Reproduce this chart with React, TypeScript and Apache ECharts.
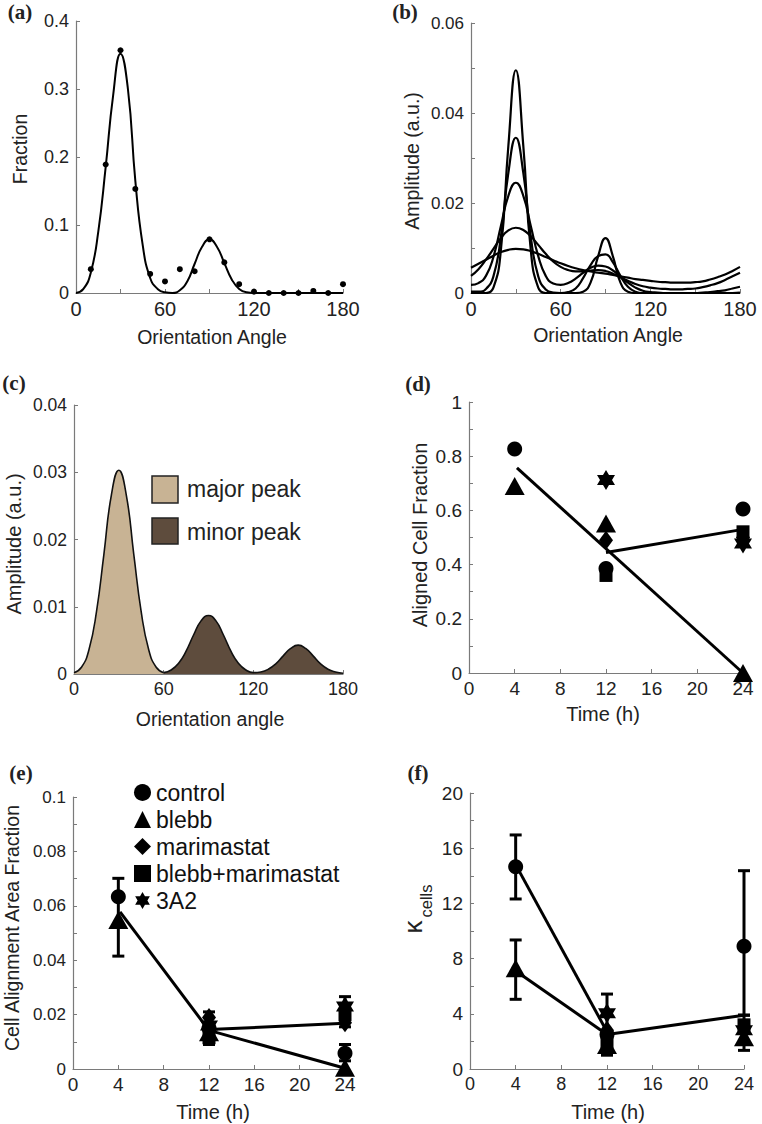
import React, { useEffect, useRef } from "react";
import * as echarts from "echarts";

// ---------- shared ----------
const angles = [0, 5, 10, 15, 20, 25, 30, 35, 40, 45, 50, 55, 60, 65, 70, 75, 80, 85, 90, 95, 100, 105, 110, 115, 120, 125, 130, 135, 140, 145, 150, 155, 160, 165, 170, 175, 180];

// ---------- panel (a) ----------
const fitA = [0, 0.006, 0.03, 0.09, 0.185, 0.29, 0.352, 0.3, 0.165, 0.07, 0.022, 0.006, 0.001, 0, 0.004, 0.017, 0.043, 0.068, 0.079, 0.068, 0.044, 0.02, 0.006, 0.001, 0, 0, 0, 0, 0, 0, 0, 0, 0, 0, 0, 0, 0];
const pointAnglesA = [10, 20, 30, 40, 50, 60, 70, 80, 90, 100, 110, 120, 130, 140, 150, 160, 170, 180];
const pointsA = [0.035, 0.189, 0.357, 0.153, 0.028, 0.017, 0.035, 0.032, 0.079, 0.045, 0.013, 0.002, 0, 0, 0, 0.003, 0, 0.013];

// ---------- panel (b) ----------
const curveB1 = [0, 0, 0, 0.0012, 0.0095, 0.0327, 0.0495, 0.0327, 0.0095, 0.0012, 0, 0, 0, 0, 0, 0.0003, 0.0023, 0.0081, 0.0122, 0.0081, 0.0023, 0.0003, 0, 0, 0, 0, 0, 0, 0, 0, 0, 0, 0, 0, 0, 0, 0];
const curveB2 = [0.0003, 0.0003, 0.0009, 0.0037, 0.0125, 0.0267, 0.0345, 0.0267, 0.0125, 0.0037, 0.0008, 0.0001, 0, 0.0002, 0.001, 0.0033, 0.0062, 0.0082, 0.0086, 0.0068, 0.0038, 0.0014, 0.0003, 0, 0, 0, 0, 0, 0, 0, 0, 0, 0, 0, 0, 0, 0.0001];
const curveB3 = [0.0018, 0.0022, 0.0038, 0.008, 0.0149, 0.0216, 0.0245, 0.0216, 0.0149, 0.0082, 0.0038, 0.0021, 0.0018, 0.0022, 0.0032, 0.0045, 0.0056, 0.0061, 0.0059, 0.005, 0.0036, 0.0023, 0.0012, 0.0005, 0.0002, 0.0001, 0, 0, 0, 0, 0, 0.0001, 0.0002, 0.0004, 0.0006, 0.001, 0.0014];
const curveB4 = [0.0038, 0.0053, 0.0074, 0.0098, 0.0122, 0.0139, 0.0145, 0.014, 0.0126, 0.0107, 0.0087, 0.007, 0.0058, 0.0051, 0.0048, 0.0048, 0.005, 0.0051, 0.0049, 0.0043, 0.0035, 0.0027, 0.002, 0.0015, 0.0012, 0.001, 0.0009, 0.0008, 0.0008, 0.0009, 0.001, 0.0013, 0.0017, 0.0022, 0.0029, 0.0037, 0.0045];
const curveB5 = [0.0056, 0.0065, 0.0074, 0.0083, 0.0091, 0.0096, 0.0098, 0.0097, 0.0093, 0.0087, 0.008, 0.0073, 0.0066, 0.006, 0.0055, 0.0051, 0.0048, 0.0045, 0.0043, 0.004, 0.0037, 0.0034, 0.0031, 0.0029, 0.0027, 0.0025, 0.0024, 0.0023, 0.0023, 0.0023, 0.0024, 0.0026, 0.003, 0.0035, 0.0041, 0.0049, 0.0058];

// ---------- panel (c) ----------
const majorPeak = [0.0002, 0.001, 0.0036, 0.0092, 0.0178, 0.0266, 0.0303, 0.0266, 0.0178, 0.0092, 0.0036, 0.001, 0.0002];
const minorPeak = [0.0002, 0.0006, 0.0016, 0.0034, 0.0058, 0.0079, 0.0087, 0.0079, 0.0058, 0.0034, 0.0016, 0.0006, 0.0002, 0.0003, 0.0007, 0.0015, 0.0027, 0.0038, 0.0043, 0.0038, 0.0027, 0.0015, 0.0007, 0.0003, 0.0001];
const peakLabels = ["major peak", "minor peak"];

// ---------- panels (d)(e)(f) ----------
const times = [4, 12, 24];
const groups = ["control", "blebb", "marimastat", "blebb+marimastat", "3A2"];

const alignedD = [
  [0.827, 0.386, 0.605],
  [0.69, 0.552, 0.0],
  [null, 0.49, 0.5],
  [null, 0.36, 0.521],
  [null, 0.712, 0.478],
];
const lineD1 = [[4.2, 0.757], [24, 0.0]];
const lineD2 = [[12, 0.445], [24, 0.53]];

const areaE = [
  [0.0633, 0.015, 0.0058],
  [0.0548, 0.0135, 0.0005],
  [null, 0.0189, 0.017],
  [null, 0.0115, 0.02],
  [null, 0.016, 0.023],
];
const lineE1 = [[4.15, 0.0578], [12, 0.0142]];
const lineE2 = [[12, 0.0145], [24, 0.0168]];
const lineE3 = [[12, 0.0142], [24, 0.0003]];
const errE = [[4, 0.0415, 0.0701], [12, 0.009, 0.021], [24, 0.0155, 0.0266], [24, 0.003, 0.009]];

const kappaF = [
  [14.66, 2.5, 8.9],
  [7.3, 1.74, 2.3],
  [null, 2.8, 3.0],
  [null, 2.0, 3.2],
  [null, 4.04, 2.8],
];
const lineF1 = [[4.2, 14.5], [12, 2.7]];
const lineF2 = [[4.2, 7.0], [12, 2.5]];
const lineF3 = [[12, 2.5], [24, 3.9]];
const errF = [[4, 12.32, 16.96], [4, 5.05, 9.35], [12, 1.0, 5.43], [24, 3.9, 14.37], [24, 1.35, 3.9]];

const STAR = "path://M0,-10L2.887,-5L8.66,-5L5.774,0L8.66,5L2.887,5L0,10L-2.887,5L-8.66,5L-5.774,0L-8.66,-5L-2.887,-5Z";
const symbols = ["circle", "triangle", "diamond", "rect", STAR];
const symbolSizes: any[] = [15, [20, 18], [14, 19], 13, [18, 20]];

const FONT = "Liberation Sans";
const SERIF = "Liberation Serif";
const AXIS_COLOR = "#7a7a7a";
const LABEL_COLOR = "#222";

function xAx(gi: number, max: number, interval: number, fs: number, minor: boolean) {
  return {
    type: "value", gridIndex: gi, min: 0, max, interval,
    axisLine: { show: true, onZero: false, lineStyle: { color: AXIS_COLOR, width: 1.2 } },
    axisTick: { show: true, inside: true, length: 4, lineStyle: { color: AXIS_COLOR } },
    minorTick: { show: minor, splitNumber: 2, length: 4, lineStyle: { color: AXIS_COLOR } },
    axisLabel: { color: LABEL_COLOR, fontSize: fs, fontFamily: FONT, margin: 6 },
    splitLine: { show: false },
  };
}
function yAx(gi: number, max: number, interval: number, fs: number, minor: boolean) {
  return {
    type: "value", gridIndex: gi, min: 0, max, interval,
    axisLine: { show: true, onZero: false, lineStyle: { color: AXIS_COLOR, width: 1.2 } },
    axisTick: { show: true, inside: true, length: 4, lineStyle: { color: AXIS_COLOR } },
    minorTick: { show: minor, splitNumber: 2, length: 4, lineStyle: { color: AXIS_COLOR } },
    axisLabel: { color: LABEL_COLOR, fontSize: fs, fontFamily: FONT, margin: 7 },
    splitLine: { show: false },
  };
}

function zip(xs: number[], ys: number[]) {
  return xs.map((x, i) => [x, ys[i]]);
}

function curve(gi: number, name: string, data: number[][], width: number) {
  return {
    type: "line", name, xAxisIndex: gi, yAxisIndex: gi, data, symbol: "none",
    smooth: 0.5,
    lineStyle: { color: "#000", width },
  };
}

function straight(gi: number, data: number[][]) {
  return {
    type: "line", name: "fit", xAxisIndex: gi, yAxisIndex: gi, data, symbol: "none",
    lineStyle: { color: "#000", width: 3 }, z: 3,
  };
}

function groupScatter(gi: number, table: (number | null)[][]) {
  return groups.map((g, k) => ({
    type: "scatter", name: g, xAxisIndex: gi, yAxisIndex: gi,
    symbol: symbols[k], symbolSize: symbolSizes[k],
    itemStyle: { color: "#000", opacity: 1 },
    data: times.map((t, i) => [t, table[k][i]]).filter((p) => p[1] !== null),
    z: 4,
  }));
}

function errorBars(gi: number, data: number[][]) {
  return {
    type: "custom", name: "error", xAxisIndex: gi, yAxisIndex: gi, data,
    encode: { x: 0, y: [1, 2] }, z: 5,
    renderItem: (params: any, api: any) => {
      const x = api.value(0), lo = api.value(1), hi = api.value(2);
      const a = api.coord([x, lo]);
      const b = api.coord([x, hi]);
      const w = 6;
      const st = { stroke: "#000", lineWidth: 3 };
      return {
        type: "group",
        children: [
          { type: "line", shape: { x1: a[0], y1: a[1], x2: b[0], y2: b[1] }, style: st },
          { type: "line", shape: { x1: a[0] - w, y1: a[1], x2: a[0] + w, y2: a[1] }, style: st },
          { type: "line", shape: { x1: b[0] - w, y1: b[1], x2: b[0] + w, y2: b[1] }, style: st },
        ],
      };
    },
  };
}

function txt(text: string, x: number, y: number, size: number, rot = false, family = FONT, weight = "normal") {
  return {
    type: "text", x, y, rotation: rot ? Math.PI / 2 : 0, z: 10,
    style: { text, fontSize: size, fontFamily: family, fontWeight: weight, fill: LABEL_COLOR, align: "center", verticalAlign: "middle" },
  };
}

function buildOption() {
  const grids = [
    { left: 76, top: 21, width: 267, height: 272 },
    { left: 471, top: 23, width: 269, height: 270 },
    { left: 74, top: 405, width: 269, height: 269 },
    { left: 469, top: 402, width: 274, height: 271 },
    { left: 73, top: 797, width: 272, height: 272 },
    { left: 470, top: 793, width: 274, height: 276 },
  ];
  const xAxis = [
    xAx(0, 180, 60, 20, true),
    xAx(1, 180, 60, 20, true),
    xAx(2, 180, 60, 18, true),
    xAx(3, 24, 4, 19, false),
    xAx(4, 24, 4, 19, false),
    xAx(5, 24, 4, 18, false),
  ];
  const yAxis = [
    yAx(0, 0.4, 0.1, 18, false),
    yAx(1, 0.06, 0.02, 17, true),
    yAx(2, 0.04, 0.01, 17.5, false),
    yAx(3, 1, 0.2, 19, true),
    yAx(4, 0.1, 0.02, 17, true),
    yAx(5, 20, 4, 19, true),
  ];

  const series: any[] = [];
  // (a)
  series.push(curve(0, "fit", zip(angles, fitA), 2));
  series.push({
    type: "scatter", name: "data", xAxisIndex: 0, yAxisIndex: 0,
    data: zip(pointAnglesA, pointsA), symbol: "circle", symbolSize: 6,
    itemStyle: { color: "#000", opacity: 1 }, z: 4,
  });
  // (b)
  [curveB1, curveB2, curveB3, curveB4, curveB5].forEach((c, i) => {
    series.push(curve(1, "curve" + (i + 1), zip(angles, c), 2.2));
  });
  // (c)
  series.push({
    type: "line", name: peakLabels[0], xAxisIndex: 2, yAxisIndex: 2,
    data: zip(angles.slice(0, 13), majorPeak), symbol: "none", smooth: 0.5,
    lineStyle: { color: "#111", width: 1.6 }, areaStyle: { color: "#c8b394", opacity: 1 },
  });
  series.push({
    type: "line", name: peakLabels[1], xAxisIndex: 2, yAxisIndex: 2,
    data: zip(angles.slice(12), minorPeak), symbol: "none", smooth: 0.5,
    lineStyle: { color: "#111", width: 1.6 }, areaStyle: { color: "#5e4c3d", opacity: 1 },
  });
  // (d)
  series.push(...groupScatter(3, alignedD));
  series.push(straight(3, lineD1), straight(3, lineD2));
  // (e)
  series.push(...groupScatter(4, areaE));
  series.push(straight(4, lineE1), straight(4, lineE2), straight(4, lineE3));
  series.push(errorBars(4, errE));
  // (f)
  series.push(...groupScatter(5, kappaF));
  series.push(straight(5, lineF1), straight(5, lineF2), straight(5, lineF3));
  series.push(errorBars(5, errF));

  const graphic: any[] = [
    // panel letters
    txt("(a)", 20, 12, 21, false, SERIF, "bold"),
    txt("(b)", 405, 12, 21, false, SERIF, "bold"),
    txt("(c)", 14, 383, 21, false, SERIF, "bold"),
    txt("(d)", 418, 384, 21, false, SERIF, "bold"),
    txt("(e)", 21, 773, 21, false, SERIF, "bold"),
    txt("(f)", 418, 773, 21, false, SERIF, "bold"),
    // axis titles
    txt("Fraction", 20, 149, 19.5, true),
    txt("Orientation Angle", 212, 337, 19.5),
    txt("Amplitude (a.u.)", 412, 161, 19.5, true),
    txt("Orientation Angle", 608, 335, 19.5),
    txt("Amplitude (a.u.)", 14, 544, 20, true),
    txt("Orientation angle", 210, 719, 19.5),
    txt("Aligned Cell Fraction", 420, 535, 20, true),
    txt("Time (h)", 603, 714, 20),
    txt("Cell Alignment Area Fraction", 12, 928, 19.5, true),
    txt("Time (h)", 213, 1112, 20),
    txt("κ", 413, 927, 26, true),
    txt("cells", 426, 901, 16.5, true),
    txt("Time (h)", 608, 1112, 20),
    // legend of (c)
    { type: "rect", shape: { x: 152, y: 476, width: 26, height: 27 }, style: { fill: "#c8b394", stroke: "#222", lineWidth: 1.5 }, z: 10 },
    { type: "rect", shape: { x: 152, y: 518, width: 26, height: 26 }, style: { fill: "#5e4c3d", stroke: "#222", lineWidth: 1.5 }, z: 10 },
    { type: "text", x: 187, y: 489, z: 10, style: { text: peakLabels[0], fontSize: 23, fontFamily: FONT, fill: "#222", align: "left", verticalAlign: "middle" } },
    { type: "text", x: 187, y: 532, z: 10, style: { text: peakLabels[1], fontSize: 23, fontFamily: FONT, fill: "#222", align: "left", verticalAlign: "middle" } },
  ];

  return {
    animation: false,
    backgroundColor: "#fff",
    color: ["#000"],
    grid: grids,
    xAxis,
    yAxis,
    legend: {
      show: true, orient: "vertical", left: 129, top: 776, itemWidth: 17, itemHeight: 17, itemGap: 4,
      selectedMode: false,
      textStyle: { fontSize: 23, fontFamily: FONT, color: "#111" },
      data: groups.map((g, i) => ({ name: g, icon: symbols[i] })),
    },
    series,
    graphic,
  };
}

export default function App() {
  const ref = useRef<HTMLDivElement>(null);
  useEffect(() => {
    const chart = echarts.init(ref.current!, null, { renderer: "svg" });
    chart.setOption(buildOption() as any);
    return () => chart.dispose();
  }, []);
  return (
    <div
      ref={ref}
      style={{ position: "absolute", left: 0, top: 0, width: 762, height: 1124, background: "#fff" }}
    />
  );
}
